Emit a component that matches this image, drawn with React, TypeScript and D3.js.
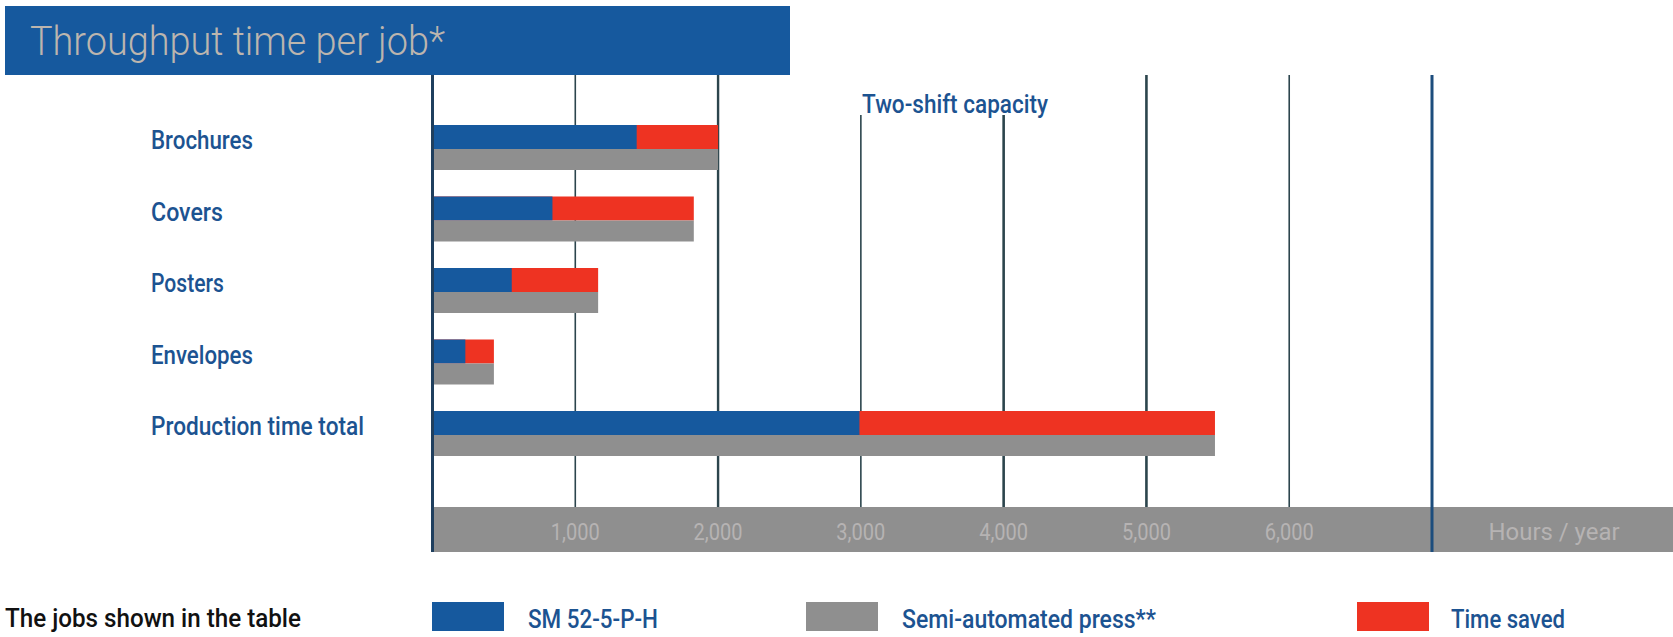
import React from "react";
import * as d3 from "d3";

const categories = ["Brochures", "Covers", "Posters", "Envelopes", "Production time total"];
const sm52Hours = [1430, 840, 555, 230, 2990];
const semiAutoHours = [2000, 1830, 1160, 430, 5480];
const gridValues = [1000, 2000, 3000, 4000, 5000, 6000];
const tickLabels = ["1,000", "2,000", "3,000", "4,000", "5,000", "6,000"];
const capacityValue = 7000;
const legendItems = ["SM 52-5-P-H", "Semi-automated press**", "Time saved"];

const W = 1673;
const H = 637;
const BLUE = "#16599e";
const RED = "#ee3322";
const GRAY = "#8f8f8f";
const GRID = "#2c454d";
const LABEL = "#1c5391";
const FONT = "Roboto, 'Noto Sans', sans-serif";

export default function App() {
  const x = d3.scaleLinear().domain([0, capacityValue]).range([432.5, 1432]);
  const y = d3.scaleBand<string>().domain(categories).range([125, 125 + 71.5 * 5]);
  const blueH = 24;
  const grayH = 21;
  const gridTop = 75;
  const bandTop = 507;
  const bandBottom = 552;

  const gridStyle: Record<number, { w: number; top: number }> = {
    1000: { w: 1.6, top: gridTop },
    2000: { w: 2.4, top: gridTop },
    3000: { w: 1.6, top: 115 },
    4000: { w: 2.6, top: 115 },
    5000: { w: 2.6, top: gridTop },
    6000: { w: 1.6, top: gridTop },
  };

  return (
    <div style={{ position: "absolute", left: 0, top: 0 }}>
      <svg width={W} height={H} style={{ display: "block", background: "#ffffff" }}>
        {/* title bar */}
        <rect x={5} y={6} width={785} height={69} fill={BLUE} />
        <text
          x={30}
          y={55}
          fill="#bcb5ae"
          fontFamily={FONT}
          fontWeight={300}
          fontSize={41}
          textLength={415}
          lengthAdjust="spacingAndGlyphs"
        >
          Throughput time per job*
        </text>

        {/* gridlines */}
        {gridValues.map((v) => (
          <line
            key={v}
            x1={x(v)}
            x2={x(v)}
            y1={gridStyle[v].top}
            y2={bandTop + 6}
            stroke={GRID}
            strokeWidth={gridStyle[v].w}
          />
        ))}

        <text
          x={862}
          y={113}
          fill={LABEL}
          fontFamily={FONT}
          fontWeight={500}
          fontSize={26}
          textLength={186}
          lengthAdjust="spacingAndGlyphs"
        >
          Two-shift capacity
        </text>

        {/* category labels */}
        {categories.map((c, i) => (
          <text
            key={c}
            x={151}
            y={(y(c) as number) + 24}
            fill={LABEL}
            fontFamily={FONT}
            fontWeight={500}
            fontSize={25}
            textLength={[102, 72, 73, 102, 213][i]}
            lengthAdjust="spacingAndGlyphs"
          >
            {c}
          </text>
        ))}

        {/* bars */}
        {categories.map((c, i) => {
          const top = y(c) as number;
          return (
            <g key={c}>
              <rect x={x(0)} y={top} width={x(semiAutoHours[i]) - x(0)} height={blueH} fill={RED} />
              <rect x={x(0)} y={top} width={x(sm52Hours[i]) - x(0)} height={blueH} fill={BLUE} />
              <rect x={x(0)} y={top + blueH} width={x(semiAutoHours[i]) - x(0)} height={grayH} fill={GRAY} />
            </g>
          );
        })}

        {/* bottom axis band */}
        <rect x={x(0)} y={bandTop} width={W - x(0)} height={bandBottom - bandTop} fill={GRAY} />
        {gridValues.map((v, i) => (
          <text
            key={v}
            x={x(v)}
            y={540}
            textAnchor="middle"
            fill="#b6b3b3"
            fontFamily={FONT}
            fontSize={24}
            textLength={49}
            lengthAdjust="spacingAndGlyphs"
          >
            {tickLabels[i]}
          </text>
        ))}
        <text
          x={1554}
          y={540}
          textAnchor="middle"
          fill="#b6b3b3"
          fontFamily={FONT}
          fontSize={24}
          textLength={131}
          lengthAdjust="spacingAndGlyphs"
        >
          Hours / year
        </text>

        {/* zero axis and capacity line */}
        <line x1={x(0)} x2={x(0)} y1={gridTop} y2={bandBottom} stroke="#1f3f5e" strokeWidth={3} />
        <line
          x1={x(capacityValue)}
          x2={x(capacityValue)}
          y1={gridTop}
          y2={bandBottom}
          stroke="#1c4d7d"
          strokeWidth={3}
        />

        {/* legend */}
        <text
          x={5}
          y={627}
          fill="#111111"
          fontFamily={FONT}
          fontWeight={500}
          fontSize={26}
          textLength={296}
          lengthAdjust="spacingAndGlyphs"
        >
          The jobs shown in the table
        </text>
        {[
          { sx: 432, tx: 528, color: BLUE, tl: 130 },
          { sx: 806, tx: 902, color: GRAY, tl: 254 },
          { sx: 1357, tx: 1451, color: RED, tl: 114 },
        ].map((d, i) => (
          <g key={legendItems[i]}>
            <rect x={d.sx} y={602} width={72} height={29} fill={d.color} />
            <text
              x={d.tx}
              y={628}
              fill={LABEL}
              fontFamily={FONT}
              fontWeight={500}
              fontSize={26}
              textLength={d.tl}
              lengthAdjust="spacingAndGlyphs"
            >
              {legendItems[i]}
            </text>
          </g>
        ))}
      </svg>
    </div>
  );
}
